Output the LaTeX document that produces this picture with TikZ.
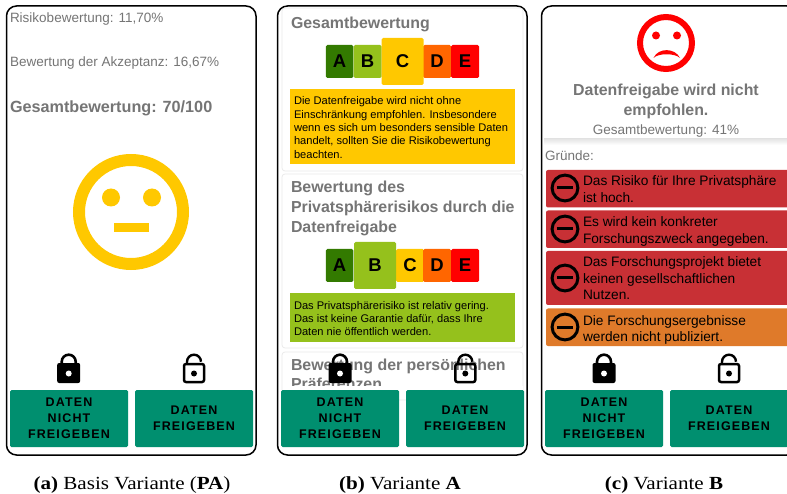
\documentclass[tikz,border=0pt]{standalone}
\usepackage{fontspec}
\setmainfont{Liberation Serif}
\newfontfamily\uif{Liberation Sans}
\newfontfamily\btnf[LetterSpace=9]{Liberation Sans}
\newfontfamily\capf[FakeStretch=1.14]{Liberation Serif}
\definecolor{txtgray}{HTML}{757575}
\definecolor{btngreen}{HTML}{008F6F}
\definecolor{ampA}{HTML}{337A00}
\definecolor{ampB}{HTML}{95C11C}
\definecolor{ampC}{HTML}{FFC800}
\definecolor{ampD}{HTML}{FF6600}
\definecolor{ampE}{HTML}{FF0000}
\definecolor{reasonred}{HTML}{C83035}
\definecolor{reasonor}{HTML}{DF7A2A}
\newcommand{\fs}[2]{\fontsize{#1}{#2}\selectfont}
\newcommand{\lft}[2]{\parbox[t]{#1pt}{\raggedright #2}}
\tikzset{
  frame/.style={draw=black,line width=1.5pt,rounded corners=10pt,fill=white},
  card/.style={draw=black!8,line width=.8pt,rounded corners=3pt,fill=white},
  plain/.style={inner sep=0pt,outer sep=0pt,anchor=base west,text=txtgray,font=\uif\fs{13.5}{16}},
  head/.style={inner sep=0pt,outer sep=0pt,anchor=base west,text=txtgray,font=\uif\bfseries\fs{15.9}{20}},
  small/.style={inner sep=0pt,outer sep=0pt,anchor=base west,text=black,font=\uif\fs{11.1}{13.3}},
  reason/.style={inner sep=0pt,outer sep=0pt,anchor=base west,text=black,font=\uif\fs{13.7}{16.3}},
  btn/.style={fill=btngreen,rounded corners=1.5pt,inner sep=0pt,minimum width=118pt,minimum height=57pt,align=center,text=black,font=\btnf\bfseries\fs{12.5}{16.2}},
  amp/.style={rounded corners=1.5pt,inner sep=0pt,text=black,font=\uif\bfseries\fs{18.5}{18.5}},
  captext/.style={inner sep=0pt,anchor=base,text=black,font=\capf\fs{18.5}{20}},
  rbox/.style={rounded corners=2pt},
  minusicon/.pic={
    \draw[line width=3pt,black] (0,0) circle[radius=12.9];
    \draw[line width=3pt,black] (-8,0) -- (8,0);
  },
  lockshut/.pic={
    \fill[black,rounded corners=2pt] (-11.5,-10) rectangle (11.5,10);
    \draw[black,line width=2.6pt] (-7,-9) -- (-7,-11.3) arc[start angle=180,end angle=360,radius=7] -- (7,-9);
    \fill[white] (0,0.5) circle[radius=3];
  },
  lockopen/.pic={
    \draw[black,line width=2.5pt,rounded corners=2pt] (-10,-9) rectangle (10,9);
    \draw[black,line width=2.4pt] (-7,-9) -- (-7,-11.3) arc[start angle=180,end angle=360,radius=7];
    \fill[black] (0,0.5) circle[radius=3];
  }
}
\begin{document}
\begin{tikzpicture}[x=1pt,y=-1pt]
\useasboundingbox (0,0) rectangle (787,494);
\begin{scope}
\clip (0,0) rectangle (787,494);
% ---------- Variant A
\draw[frame] (6.5,6) rectangle (256,455);
\node[plain] (a1) at (10,23) {Risikobewertung: 11,70\%};
\node[plain] (a2) at (10,67) {Bewertung der Akzeptanz: 16,67\%};
\node[head,font=\uif\bfseries\fs{16.2}{20}]  (a3) at (10,113) {Gesamtbewertung: 70/100};
\draw[ampC,line width=12pt] (131,212) circle[radius=52];
\fill[ampC] (111,197.5) circle[radius=9] (152,197.5) circle[radius=9];
\fill[ampC] (114,223.5) rectangle (149,232.5);
\pic at (68.7,373) {lockshut};
\pic at (194,373) {lockopen};
\node[btn] (ab1) at (69,418.5) {DATEN\\NICHT\\FREIGEBEN};
\node[btn] (ab2) at (194,418.5) {DATEN\\FREIGEBEN};
\node[captext] (ac) at (132,489) {\textbf{(a)} Basis Variante (\textbf{PA})};
% ---------- Variant B
\draw[frame] (277.5,6) rectangle (527,455);
\draw[card] (282,8) rectangle (523,171);
\draw[card] (282,174) rectangle (523,348);
\draw[card] (282,352) rectangle (523,400);
\node[head] (b1) at (291,29) {Gesamtbewertung};
\node[amp,fill=ampA,minimum width=27.5pt,minimum height=33pt] (b1a) at (339.5,61.5) {A};
\node[amp,fill=ampB,minimum width=28pt,minimum height=33pt] (b1b) at (367.5,61.5) {B};
\node[amp,fill=ampD,minimum width=28pt,minimum height=33pt] (b1d) at (437,61.5) {D};
\node[amp,fill=ampE,minimum width=28pt,minimum height=33pt] (b1e) at (465,61.5) {E};
\node[amp,fill=ampC,minimum width=42pt,minimum height=47pt] (b1c) at (402.5,61.5) {C};
\fill[ampC] (290,89) rectangle (515,164);
\node[small] (b1t) at (294,105) {\lft{220}{Die Datenfreigabe wird nicht ohne\\Einschränkung empfohlen. Insbesondere\\wenn es sich um besonders sensible Daten\\handelt, sollten Sie die Risikobewertung\\beachten.}};
\node[head] (b2) at (291,193) {\lft{230}{Bewertung des\\Privatsphärerisikos durch die\\Datenfreigabe}};
\node[amp,fill=ampA,minimum width=27.5pt,minimum height=33pt] (b2a) at (339.5,265.5) {A};
\node[amp,fill=ampC,minimum width=28pt,minimum height=33pt] (b2c) at (410,265.5) {C};
\node[amp,fill=ampD,minimum width=28pt,minimum height=33pt] (b2d) at (437,265.5) {D};
\node[amp,fill=ampE,minimum width=28pt,minimum height=33pt] (b2e) at (465,265.5) {E};
\node[amp,fill=ampB,minimum width=42pt,minimum height=47pt] (b2b) at (375,265.5) {B};
\fill[ampB] (290,293) rectangle (515,342);
\node[small] (b2t) at (294,309) {\lft{220}{Das Privatsphärerisiko ist relativ gering.\\Das ist keine Garantie dafür, dass Ihre\\Daten nie öffentlich werden.}};
\begin{scope}
\clip (283,353) rectangle (522,386);
\node[head] (b3) at (291,370) {\lft{230}{Bewertung der persönlichen\\Präferenzen}};
\end{scope}
\fill[white] (282.5,386) rectangle (523,392);
\pic at (340,373) {lockshut};
\pic at (465.3,373) {lockopen};
\node[btn] (bb1) at (340,418.5) {DATEN\\NICHT\\FREIGEBEN};
\node[btn] (bb2) at (465,418.5) {DATEN\\FREIGEBEN};
\node[captext] (bc) at (400,489) {\textbf{(b)} Variante \textbf{A}};
% ---------- Variant C
\draw[frame] (541.5,6) rectangle (797,455);
\fill[top color=black!10,bottom color=white] (544,139) rectangle (787,145);
\draw[ampE,line width=6pt] (666,43) circle[radius=26];
\fill[ampE] (656,35.5) circle[radius=4] (677,35.5) circle[radius=4];
\fill[ampE] (653.5,58) .. controls (658,47.5) and (675,47.5) .. (680,58) .. controls (675,53) and (658,53) .. cycle;
\node[head,anchor=base,align=center] (c1) at (666,96) {Datenfreigabe wird nicht};
\node[head,anchor=base,align=center] (c2) at (666,116) {empfohlen.};
\node[plain,anchor=base] (c3) at (666,135) {Gesamtbewertung: 41\%};
\node[plain] (c4) at (545,161) {Gründe:};
\fill[reasonred,rbox] (546,170) rectangle (792,207.5);
\fill[reasonred,rbox] (546,210.5) rectangle (792,248);
\fill[reasonred,rbox] (546,251) rectangle (792,305);
\fill[reasonor,rbox] (546,308.5) rectangle (792,346);
\pic at (565,188) {minusicon};
\pic at (565,229) {minusicon};
\pic at (565,278) {minusicon};
\pic at (565,327) {minusicon};
\node[reason] (cr1) at (583,186) {\lft{204}{Das Risiko für Ihre Privatsphäre\\ist hoch.}};
\node[reason] (cr2) at (583,227) {\lft{204}{Es wird kein konkreter\\Forschungszweck angegeben.}};
\node[reason] (cr3) at (583,267) {\lft{204}{Das Forschungsprojekt bietet\\keinen gesellschaftlichen\\Nutzen.}};
\node[reason] (cr4) at (583,325) {\lft{204}{Die Forschungsergebnisse\\werden nicht publiziert.}};
\pic at (604,373) {lockshut};
\pic at (729,373) {lockopen};
\node[btn] (cb1) at (604,418.5) {DATEN\\NICHT\\FREIGEBEN};
\node[btn] (cb2) at (729,418.5) {DATEN\\FREIGEBEN};
\node[captext] (cc) at (664,489) {\textbf{(c)} Variante \textbf{B}};
\end{scope}
\end{tikzpicture}
\end{document}
